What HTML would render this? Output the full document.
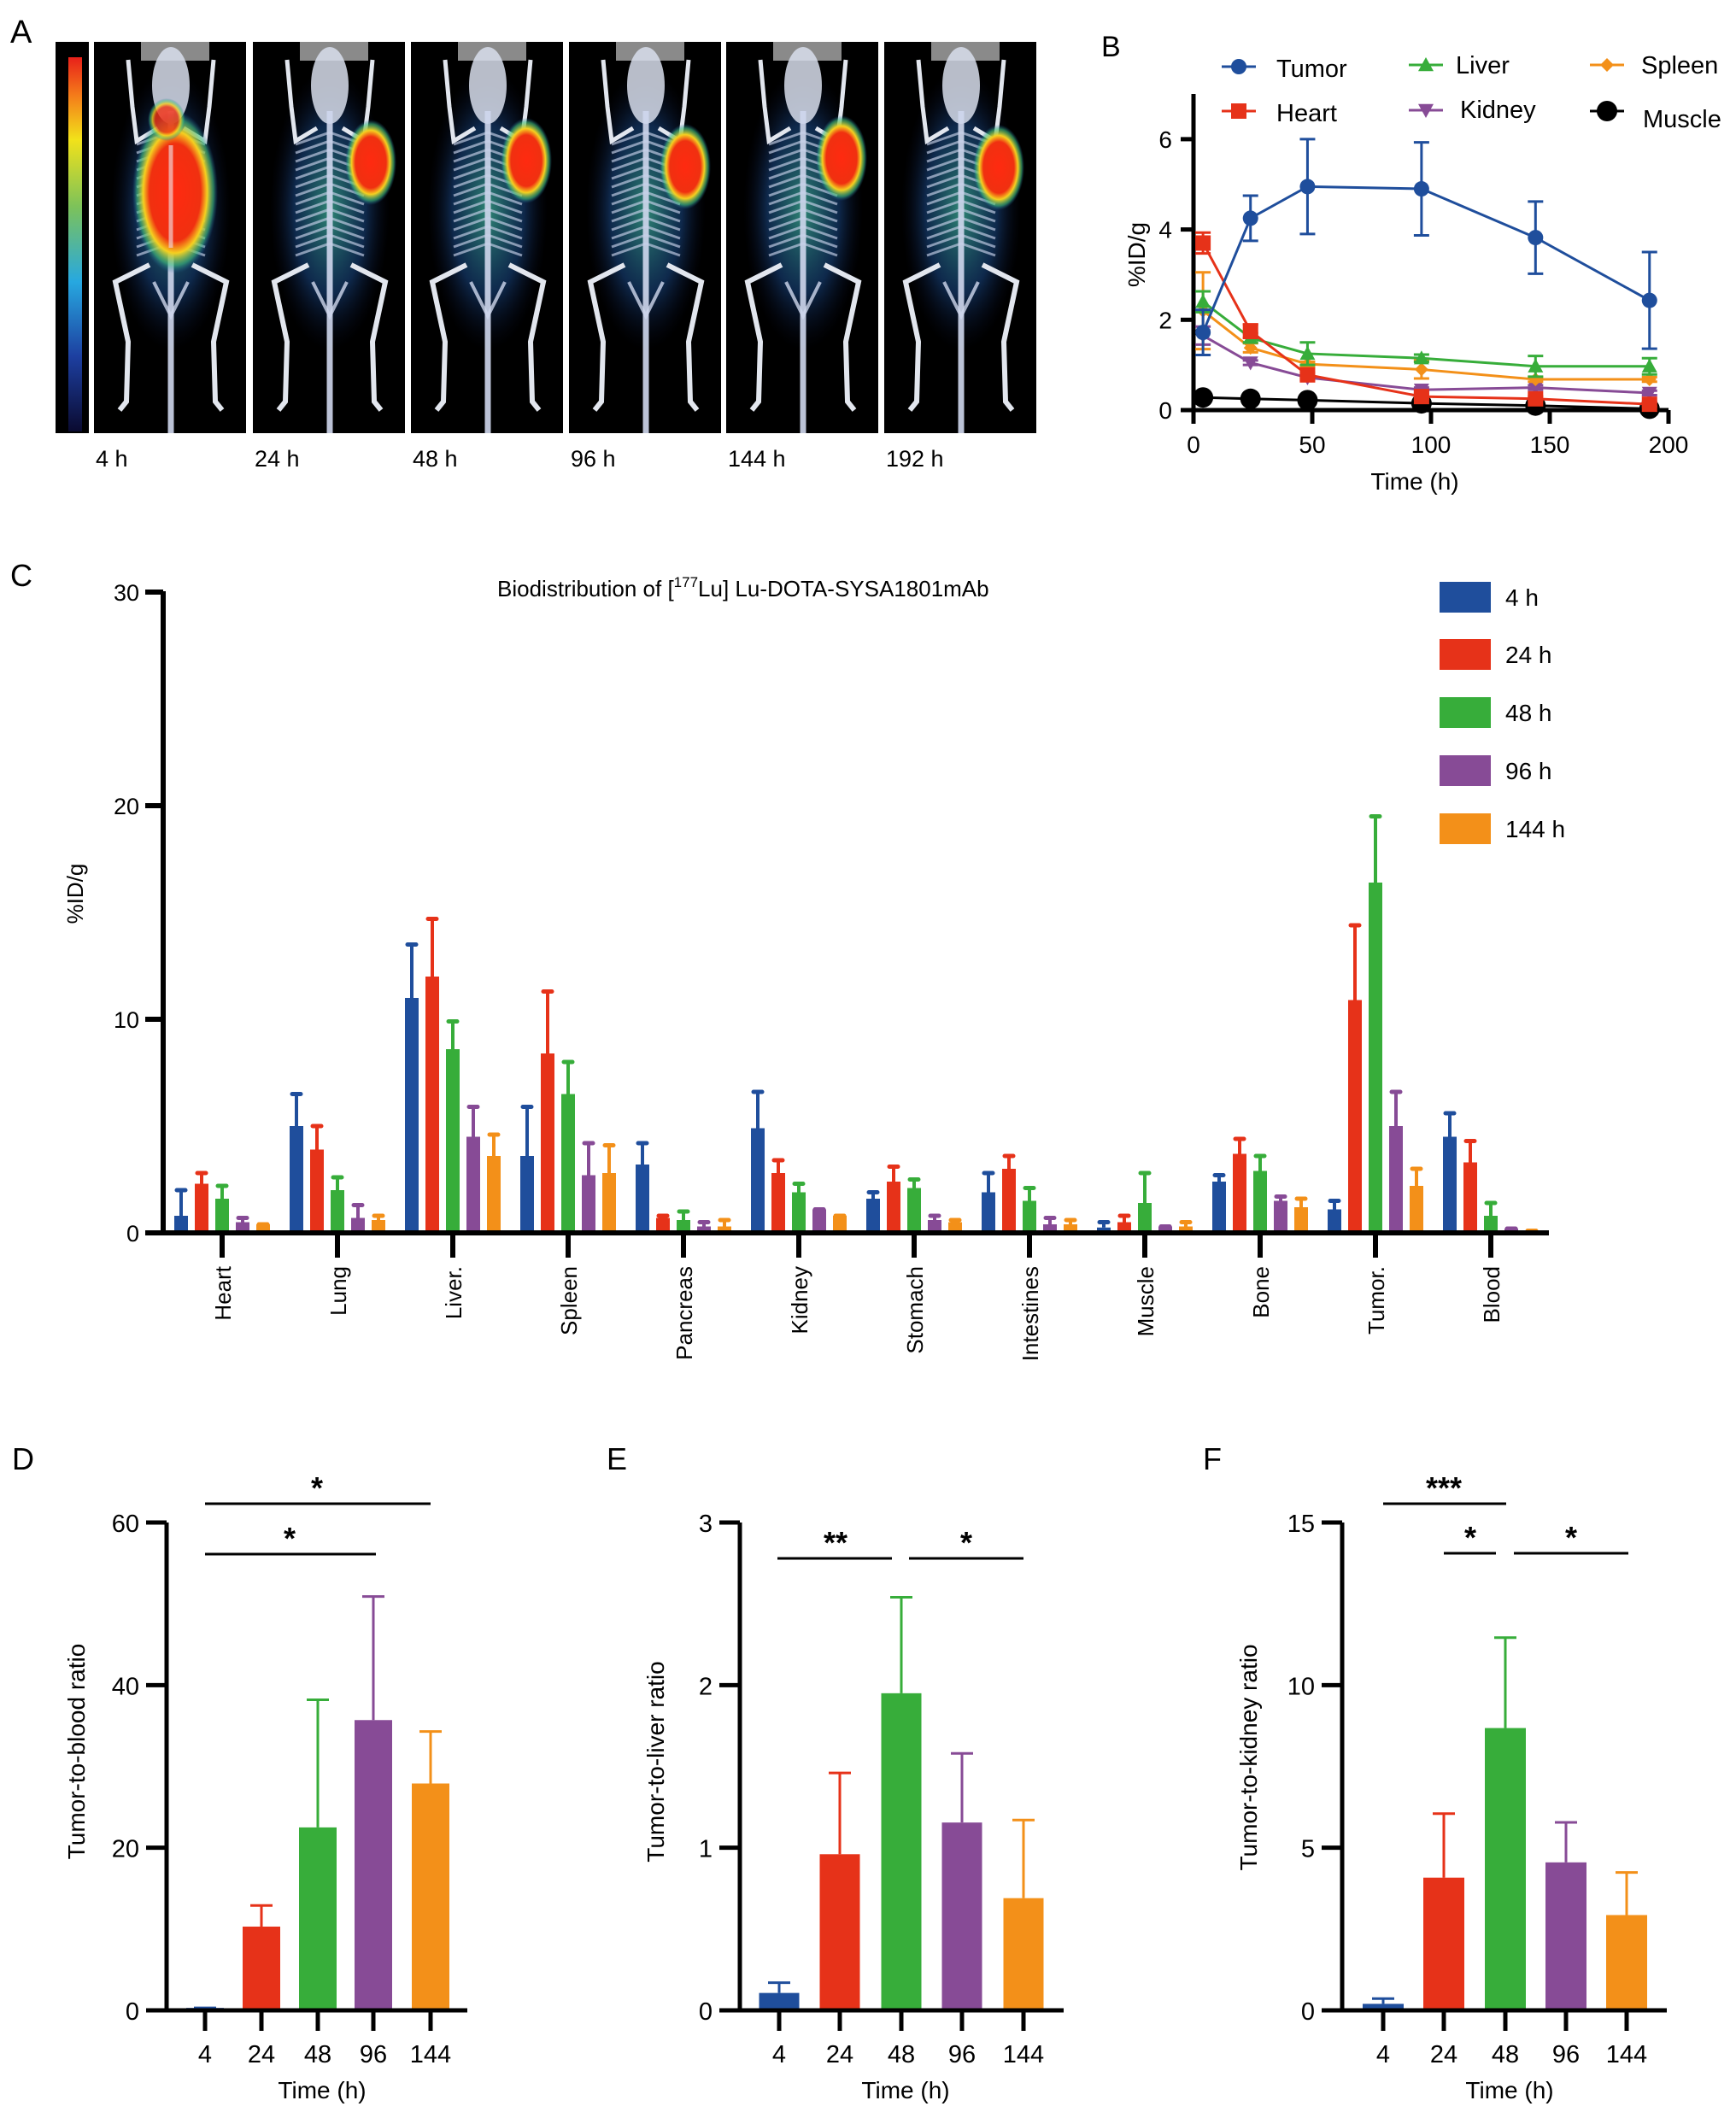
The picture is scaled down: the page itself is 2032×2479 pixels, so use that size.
<!DOCTYPE html>
<html><head><meta charset="utf-8"><style>
html,body{margin:0;padding:0;background:#fff}
svg{display:block}
text{font-family:"Liberation Sans",Arial,sans-serif;fill:#000}
</style></head><body>
<svg id="fig" width="2032" height="2479" viewBox="0 0 2032 2479" xmlns="http://www.w3.org/2000/svg">
<defs>
<linearGradient id="cbar" x1="0" y1="1" x2="0" y2="0">
<stop offset="0" stop-color="#0a0a30"/><stop offset="0.2" stop-color="#1d3fa0"/><stop offset="0.4" stop-color="#27a8e0"/><stop offset="0.6" stop-color="#7cc25a"/><stop offset="0.78" stop-color="#f2e21a"/><stop offset="0.9" stop-color="#f47a1a"/><stop offset="1" stop-color="#e8201a"/>
</linearGradient>
<radialGradient id="glow" cx="0.5" cy="0.5" r="0.5"><stop offset="0" stop-color="#3aa890" stop-opacity="0.8"/><stop offset="0.6" stop-color="#1a4a8a" stop-opacity="0.55"/><stop offset="1" stop-color="#0a1030" stop-opacity="0"/></radialGradient>
<radialGradient id="hot" cx="0.5" cy="0.5" r="0.5"><stop offset="0" stop-color="#ff2a10"/><stop offset="0.6" stop-color="#f03010"/><stop offset="0.75" stop-color="#f5d020"/><stop offset="0.9" stop-color="#40c080" stop-opacity="0.6"/><stop offset="1" stop-color="#2060a0" stop-opacity="0"/></radialGradient>
</defs>
<g id="panelA"></g>
<g id="panelB"></g>
<g id="panelC"></g>
<g id="panelD"></g>
<g id="panelE"></g>
<g id="panelF"></g>
</svg>
<script>
// ---------- Data ----------
const COLORS = ["#1f4e9c","#e63219","#37ad3a","#874b96","#f39019"];
const timeLabels = ["4 h","24 h","48 h","96 h","144 h"];
// Panel A
const imgLabels = ["4 h","24 h","48 h","96 h","144 h","192 h"];
// Panel B
const bTimes = [4,24,48,96,144,192];
const bSeriesNames = ["Tumor","Heart","Liver","Kidney","Spleen","Muscle"];
const bTumor = [1.72,4.25,4.95,4.9,3.82,2.43];
const bTumorErr = [0.5,0.5,1.05,1.03,0.8,1.07];
const bHeart = [3.7,1.75,0.78,0.3,0.25,0.13];
const bHeartErr = [0.23,0.15,0.05,0.05,0.05,0.05];
const bLiver = [2.4,1.6,1.25,1.15,0.97,0.97];
const bLiverErr = [0.23,0.1,0.25,0.08,0.23,0.18];
const bKidney = [1.65,1.05,0.72,0.45,0.5,0.38];
const bKidneyErr = [0.2,0.05,0.05,0.05,0.05,0.05];
const bSpleen = [2.2,1.38,1.02,0.9,0.68,0.68];
const bSpleenErr = [0.85,0.1,0.05,0.2,0.05,0.05];
const bMuscle = [0.28,0.25,0.22,0.15,0.1,0.03];
const bYTicks = [0,2,4,6];
const bXTicks = [0,50,100,150,200];
// Panel C
const cCategories = ["Heart","Lung","Liver.","Spleen","Pancreas","Kidney","Stomach","Intestines","Muscle","Bone","Tumor.","Blood"];
const c4h   = [0.8,5.0,11.0,3.6,3.2,4.9,1.6,1.9,0.25,2.4,1.1,4.5];
const c4hErr= [2.0,6.5,13.5,5.9,4.2,6.6,1.9,2.8,0.5,2.7,1.5,5.6];
const c24h   = [2.3,3.9,12.0,8.4,0.7,2.8,2.4,3.0,0.5,3.7,10.9,3.3];
const c24hErr= [2.8,5.0,14.7,11.3,0.8,3.4,3.1,3.6,0.8,4.4,14.4,4.3];
const c48h   = [1.6,2.0,8.6,6.5,0.6,1.9,2.1,1.5,1.4,2.9,16.4,0.8];
const c48hErr= [2.2,2.6,9.9,8.0,1.0,2.3,2.5,2.1,2.8,3.6,19.5,1.4];
const c96h   = [0.5,0.7,4.5,2.7,0.3,1.1,0.6,0.4,0.3,1.5,5.0,0.2];
const c96hErr= [0.7,1.3,5.9,4.2,0.5,1.1,0.8,0.7,0.3,1.7,6.6,0.2];
const c144h   = [0.4,0.6,3.6,2.8,0.3,0.8,0.5,0.4,0.3,1.2,2.2,0.1];
const c144hErr= [0.4,0.8,4.6,4.1,0.6,0.8,0.6,0.6,0.5,1.6,3.0,0.1];
const cYTicks = [0,10,20,30];
// Panels D/E/F
const ratioX = ["4","24","48","96","144"];
const dVals = [0.3,10.3,22.5,35.7,27.9];
const dErr  = [0.3,12.9,38.2,50.9,34.3];
const dTicks = [0,20,40,60];
const eVals = [0.107,0.96,1.95,1.155,0.69];
const eErr  = [0.17,1.46,2.54,1.58,1.17];
const eTicks = [0,1,2,3];
const fVals = [0.2,4.08,8.68,4.55,2.93];
const fErr  = [0.36,6.05,11.46,5.78,4.24];
const fTicks = [0,5,10,15];

// ---------- helpers ----------
const NS="http://www.w3.org/2000/svg";
function mk(parent,tag,attrs,txt){const e=document.createElementNS(NS,tag);for(const k in attrs)e.setAttribute(k,attrs[k]);if(txt!==undefined)e.textContent=txt;parent.appendChild(e);return e;}

// ---------- Panel A ----------
(function(){
 const g=document.getElementById('panelA');
 const t=mk(g,'text',{x:12,y:50,'font-size':38});
 
 
 t.textContent='A';
 const cb=mk(g,'rect',{x:65,y:49,width:39,height:458,fill:'#000'});
 
 
 mk(g,'rect',{x:80,y:67,width:16,height:438,fill:'url(#cbar)'});
 const lefts=[110,296,481,666,850,1035];
 const blobs=[null,[138,190],[135,188],[136,195],[135,185],[134,196]];
 lefts.forEach((L,i)=>{
  const p=mk(g,'g',{});
  
  
  mk(p,'rect',{x:L,y:49,width:178,height:458,fill:'#000'});
  mk(p,'rect',{x:L+55,y:49,width:80,height:22,fill:'#8a8a8a'});
  mk(p,'ellipse',{cx:L+90,cy:245,rx:70,ry:165,fill:'url(#glow)'});
  mk(p,'ellipse',{cx:L+90,cy:100,rx:22,ry:45,fill:'#d8deec',opacity:0.85});
  mk(p,'line',{x1:L+90,y1:130,x2:L+90,y2:507,stroke:'#d0d8ee','stroke-width':7,opacity:0.9});
  for(let r=0;r<14;r++){const yy=155+r*10;mk(p,'line',{x1:L+90,y1:yy,x2:L+50,y2:yy+14,stroke:'#c8d2ea','stroke-width':3,opacity:0.65});mk(p,'line',{x1:L+90,y1:yy,x2:L+130,y2:yy+14,stroke:'#c8d2ea','stroke-width':3,opacity:0.65});}
  mk(p,'polyline',{points:`${L+40},70 ${L+45},125 ${L+50},165 ${L+75},150`,fill:'none',stroke:'#e2e6ee','stroke-width':5});
  mk(p,'polyline',{points:`${L+140},70 ${L+135},125 ${L+130},165 ${L+105},150`,fill:'none',stroke:'#e2e6ee','stroke-width':5});
  mk(p,'polyline',{points:`${L+65},310 ${L+25},330 ${L+40},400 ${L+38},470 ${L+30},480`,fill:'none',stroke:'#e2e6ee','stroke-width':6});
  mk(p,'polyline',{points:`${L+115},310 ${L+155},330 ${L+140},400 ${L+142},470 ${L+150},480`,fill:'none',stroke:'#e2e6ee','stroke-width':6});
  mk(p,'polyline',{points:`${L+70},330 ${L+90},370 ${L+110},330`,fill:'none',stroke:'#d0d8ee','stroke-width':4,opacity:0.8});
  if(i===0){mk(p,'ellipse',{cx:L+95,cy:225,rx:50,ry:95,fill:'url(#hot)'});mk(p,'ellipse',{cx:L+85,cy:140,rx:22,ry:25,fill:'url(#hot)',opacity:0.8});mk(p,'line',{x1:L+90,y1:170,x2:L+90,y2:290,stroke:'#f0d0d0','stroke-width':5,opacity:0.7});}
  else{mk(p,'ellipse',{cx:L+blobs[i][0],cy:blobs[i][1],rx:30,ry:50,fill:'url(#hot)'});}
  const tx=mk(g,'text',{x:L+2,y:546,'font-size':27});
  
  
  tx.textContent=imgLabels[i];
 });
})();

// ---------- Panel B ----------
(function(){
 const g=document.getElementById('panelB');
 const xB=t=>1397+t*2.78, yB=v=>480-v*52.85;
 const lab=mk(g,'text',{x:1289,y:66,'font-size':34});
 
 
 lab.textContent='B';
 const ax=mk(g,'path',{d:`M1397,110 V480 H1953`,fill:'none',stroke:'#000','stroke-width':5});
 
 
 bYTicks.forEach(v=>{mk(g,'line',{x1:1382,x2:1397,y1:yB(v),y2:yB(v),stroke:'#000','stroke-width':5});
  const t=mk(g,'text',{x:1372,y:yB(v)+10,'font-size':28,'text-anchor':'end'});
  
  
  t.textContent=v;});
 bXTicks.forEach(v=>{mk(g,'line',{x1:xB(v),x2:xB(v),y1:480,y2:496,stroke:'#000','stroke-width':5});
  const t=mk(g,'text',{x:xB(v),y:530,'font-size':28,'text-anchor':'middle'});
  
  
  t.textContent=v;});
 const xt=mk(g,'text',{x:1656,y:573,'font-size':28,'text-anchor':'middle'});
 
 
 xt.textContent='Time (h)';
 const yt=mk(g,'text',{x:0,y:0,'font-size':28,'text-anchor':'middle',transform:'translate(1340,298) rotate(-90)'});
 
 
 yt.textContent='%ID/g';
 const series=[[bMuscle,null,'#000','circle',12],[bKidney,bKidneyErr,'#874b96','tri-down',9],[bSpleen,bSpleenErr,'#f39019','diamond',8],[bLiver,bLiverErr,'#37ad3a','tri-up',9],[bHeart,bHeartErr,'#e63219','square',9],[bTumor,bTumorErr,'#1f4e9c','circle',9]];
 function marker(p,shape,x,y,s,c){
  if(shape==='circle')return mk(p,'circle',{cx:x,cy:y,r:s,fill:c});
  if(shape==='square')return mk(p,'rect',{x:x-s,y:y-s,width:2*s,height:2*s,fill:c});
  if(shape==='diamond')return mk(p,'polygon',{points:`${x},${y-s} ${x+s},${y} ${x},${y+s} ${x-s},${y}`,fill:c});
  if(shape==='tri-up')return mk(p,'polygon',{points:`${x},${y-s} ${x+s},${y+s*0.8} ${x-s},${y+s*0.8}`,fill:c});
  return mk(p,'polygon',{points:`${x},${y+s} ${x+s},${y-s*0.8} ${x-s},${y-s*0.8}`,fill:c});
 }
 series.forEach(([vals,err,c,shape,s])=>{
  const sg=mk(g,'g',{});
  
  
  mk(sg,'polyline',{points:vals.map((v,i)=>xB(bTimes[i])+','+yB(v)).join(' '),fill:'none',stroke:c,'stroke-width':3});
  vals.forEach((v,i)=>{
   const x=xB(bTimes[i]);
   if(err){const lo=yB(v-err[i]),hi=yB(v+err[i]);
    mk(sg,'line',{x1:x,x2:x,y1:lo,y2:hi,stroke:c,'stroke-width':3});
    mk(sg,'line',{x1:x-9,x2:x+9,y1:hi,y2:hi,stroke:c,'stroke-width':3});
    mk(sg,'line',{x1:x-9,x2:x+9,y1:lo,y2:lo,stroke:c,'stroke-width':3});}
   const m=marker(sg,shape,x,yB(v),s,c);
   
   
  });
 });
 const leg=[['Tumor',1450,78,1494,90,'#1f4e9c','circle',9],['Heart',1450,130,1494,142,'#e63219','square',9],['Liver',1669,76,1704,86,'#37ad3a','tri-up',9],['Kidney',1669,129,1709,138,'#874b96','tri-down',9],['Spleen',1881,76,1921,86,'#f39019','diamond',8],['Muscle',1881,130,1923,149,'#000','circle',12]];
 leg.forEach(([n,mx,my,tx,ty,c,shape,s])=>{
  const lg=mk(g,'g',{});
  
  
  mk(lg,'line',{x1:mx-20,x2:mx+20,y1:my,y2:my,stroke:c,'stroke-width':3});
  marker(lg,shape,mx,my,s,c);
  mk(lg,'text',{x:tx,y:ty,'font-size':29},n);
 });
})();

// ---------- Panel C ----------
(function(){
 const g=document.getElementById('panelC');
 const y0=1443, yC=v=>y0-v*25, cx=i=>260+135*i;
 const lab=mk(g,'text',{x:12,y:686,'font-size':36});
 
 
 lab.textContent='C';
 const title=mk(g,'text',{x:582,y:698,'font-size':26});
 
 
 title.innerHTML='Biodistribution of [<tspan font-size="17" dy="-11">177</tspan><tspan dy="11">Lu] Lu-DOTA-SYSA1801mAb</tspan>';
 const yt=mk(g,'text',{x:0,y:0,'font-size':26,'text-anchor':'middle',transform:'translate(97,1046) rotate(-90)'});
 
 
 yt.textContent='%ID/g';
 const series=[[c4h,c4hErr],[c24h,c24hErr],[c48h,c48hErr],[c96h,c96hErr],[c144h,c144hErr]];
 cCategories.forEach((cat,i)=>{
  series.forEach(([vals,errs],j)=>{
   const x=cx(i)+(j-2)*24;
   const e=mk(g,'line',{x1:x,x2:x,y1:yC(vals[i]),y2:yC(errs[i]),stroke:COLORS[j],'stroke-width':4});
   
   
   mk(g,'line',{x1:x-5,x2:x+5,y1:yC(errs[i]),y2:yC(errs[i]),stroke:COLORS[j],'stroke-width':5,'stroke-linecap':'round'});
   const r=mk(g,'rect',{x:x-8,y:yC(vals[i]),width:16,height:Math.max(0,y0-yC(vals[i])),fill:COLORS[j]});
   
   
  });
  mk(g,'line',{x1:cx(i),x2:cx(i),y1:y0,y2:1472,stroke:'#000','stroke-width':6});
  const t=mk(g,'text',{x:0,y:0,'font-size':26,'text-anchor':'end',transform:`translate(${cx(i)+10},1482) rotate(-90)`});
  
  
  t.textContent=cat;
 });
 const ax=mk(g,'path',{d:`M191,692 V${y0} H1813`,fill:'none',stroke:'#000','stroke-width':6});
 
 
 cYTicks.forEach(v=>{mk(g,'line',{x1:170,x2:191,y1:yC(v),y2:yC(v),stroke:'#000','stroke-width':6});
  const t=mk(g,'text',{x:163,y:yC(v)+10,'font-size':27,'text-anchor':'end'});
  
  
  t.textContent=v;});
 timeLabels.forEach((l,j)=>{
  const lg=mk(g,'g',{});
  
  
  const cy=[699,766,834,902,970][j];
  mk(lg,'rect',{x:1685,y:cy-18,width:60,height:36,fill:COLORS[j]});
  mk(lg,'text',{x:1762,y:cy+10,'font-size':28},l);
 });
})();

// ---------- Panels D/E/F ----------
function ratioPanel(id,cfg){
 const g=document.getElementById(id);
 const y0=2353, yTop=1782, vmax=cfg.ticks[cfg.ticks.length-1];
 const yv=v=>y0-(v/vmax)*(y0-yTop);
 const lab=mk(g,'text',{x:cfg.labX,y:1720,'font-size':36});
 
 
 lab.textContent=cfg.letter;
 cfg.vals.forEach((v,i)=>{
  const x=cfg.xs[i], c=COLORS[i];
  const e=mk(g,'line',{x1:x,x2:x,y1:yv(v),y2:yv(cfg.err[i]),stroke:c,'stroke-width':3});
  
  
  mk(g,'line',{x1:x-13,x2:x+13,y1:yv(cfg.err[i]),y2:yv(cfg.err[i]),stroke:c,'stroke-width':3});
  const r=mk(g,'rect',{x:x-cfg.bw/2,y:yv(v),width:cfg.bw,height:y0-yv(v),fill:c});
  
  
  mk(g,'line',{x1:x,x2:x,y1:y0,y2:2377,stroke:'#000','stroke-width':5});
  const t=mk(g,'text',{x:x,y:2414,'font-size':29,'text-anchor':'middle'});
  
  
  t.textContent=ratioX[i];
 });
 const ax=mk(g,'path',{d:`M${cfg.ax},${yTop} V${y0} H${cfg.axEnd}`,fill:'none',stroke:'#000','stroke-width':5});
 
 
 cfg.ticks.forEach(v=>{mk(g,'line',{x1:cfg.ax-24,x2:cfg.ax,y1:yv(v),y2:yv(v),stroke:'#000','stroke-width':5});
  const t=mk(g,'text',{x:cfg.ax-32,y:yv(v)+11,'font-size':29,'text-anchor':'end'});
  
  
  t.textContent=v;});
 const xt=mk(g,'text',{x:cfg.xs[2]+5,y:2456,'font-size':28,'text-anchor':'middle'});
 
 
 xt.textContent='Time (h)';
 const yt=mk(g,'text',{x:0,y:0,'font-size':28,'text-anchor':'middle',transform:`translate(${cfg.ytX},${cfg.ytY}) rotate(-90)`});
 
 
 yt.textContent=cfg.ytitle;
 cfg.sig.forEach(([x1,x2,y,sx,stars])=>{
  const s=mk(g,'g',{});
  
  
  mk(s,'line',{x1:x1,x2:x2,y1:y,y2:y,stroke:'#000','stroke-width':3});
  mk(s,'text',{x:sx,y:y-6,'font-size':36,'font-weight':'bold','text-anchor':'middle'},stars);
 });
}
ratioPanel('panelD',{letter:'D',labX:14,vals:dVals,err:dErr,ticks:dTicks,xs:[240,306,372,437,504],bw:44,ax:195,axEnd:547,ytX:99,ytY:2050,ytitle:'Tumor-to-blood ratio',
 sig:[[240,504,1760,371,'*'],[240,440,1819,339,'*']]});
ratioPanel('panelE',{letter:'E',labX:710,vals:eVals,err:eErr,ticks:eTicks,xs:[912,983,1055,1126,1198],bw:47,ax:866,axEnd:1245,ytX:777,ytY:2062,ytitle:'Tumor-to-liver ratio',
 sig:[[910,1044,1824,978,'**'],[1064,1198,1824,1131,'*']]});
ratioPanel('panelF',{letter:'F',labX:1408,vals:fVals,err:fErr,ticks:fTicks,xs:[1619,1690,1762,1833,1904],bw:48,ax:1571,axEnd:1951,ytX:1471,ytY:2057,ytitle:'Tumor-to-kidney ratio',
 sig:[[1619,1763,1760,1690,'***'],[1690,1751,1818,1721,'*'],[1772,1906,1818,1839,'*']]});
</script>
</body></html>
